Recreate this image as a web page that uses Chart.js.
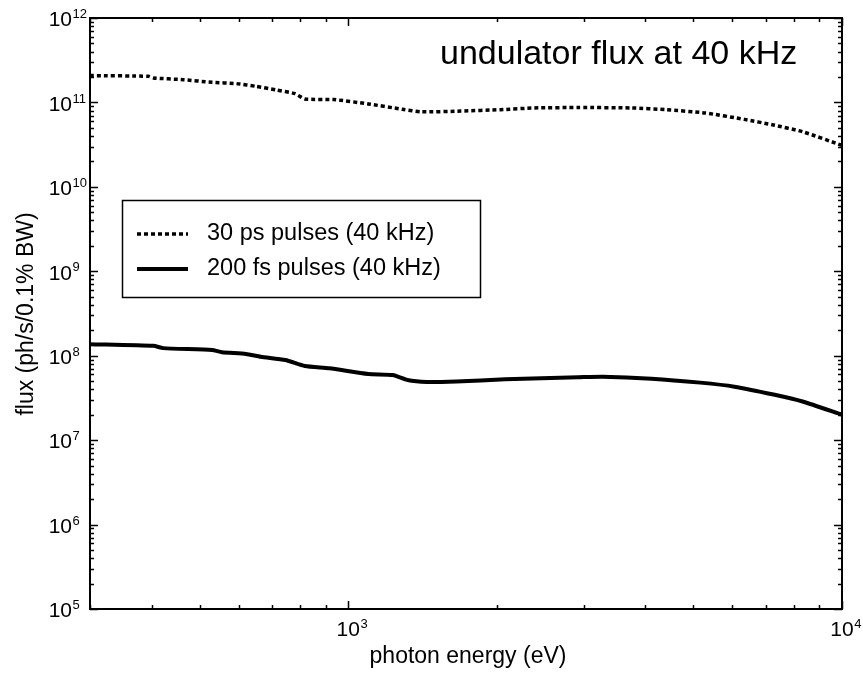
<!DOCTYPE html>
<html>
<head>
<meta charset="utf-8">
<script src="https://cdn.jsdelivr.net/npm/chart.js@4/dist/chart.umd.min.js"></script>
<style>
  body { margin: 0; background: #fff; }
  #chart { display: block; }
</style>
</head>
<body>
<canvas id="chart" width="863" height="673"></canvas>
<script>
// photon energy (eV) and flux (ph/s/0.1% BW)
const energy30ps = [300, 394, 403, 463, 530, 594, 651, 713, 780, 817, 936, 1098, 1288, 1410, 1693, 2031, 2382, 2922, 3755, 4405, 5285, 6340, 7265, 8320, 10000];
const flux30ps = [2.08e11, 2.04e11, 1.95e11, 1.86e11, 1.73e11, 1.67e11, 1.55e11, 1.41e11, 1.27e11, 1.10e11, 1.08e11, 9.6e10, 8.3e10, 7.74e10, 7.9e10, 8.2e10, 8.6e10, 8.7e10, 8.6e10, 8.2e10, 7.5e10, 6.3e10, 5.4e10, 4.5e10, 3.1e10];

const energy200fs = [300, 403, 422, 530, 555, 621, 665, 746, 817, 916, 1098, 1231, 1318, 1443, 1655, 2079, 2922, 3275, 4113, 5164, 6055, 7265, 8320, 10000];
const flux200fs = [1.37e8, 1.31e8, 1.23e8, 1.17e8, 1.10e8, 1.05e8, 9.7e7, 8.9e7, 7.55e7, 7.1e7, 6.07e7, 5.9e7, 5.16e7, 4.89e7, 4.96e7, 5.25e7, 5.55e7, 5.65e7, 5.35e7, 4.8e7, 4.3e7, 3.47e7, 2.87e7, 2.0e7];

const seriesLabels = ["30 ps pulses (40 kHz)", "200 fs pulses (40 kHz)"];
const xDecades = [1000, 10000];
const yDecades = [1e5, 1e6, 1e7, 1e8, 1e9, 1e10, 1e11, 1e12];
const titleText = "undulator flux at 40 kHz";
const xTitle = "photon energy (eV)";
const yTitle = "flux (ph/s/0.1% BW)";

const FONT = "'Liberation Sans', Arial, sans-serif";

function toPoints(xs, ys) {
  return xs.map((x, i) => ({ x: x, y: ys[i] }));
}

function supLabel(ctx, exp, x, y, align) {
  // draws 10^exp; x is centre (x axis) or right edge of "10" (y axis)
  ctx.font = "21px " + FONT;
  const w10 = ctx.measureText("10").width;
  const left = align === "center" ? x - w10 / 2 : x - w10;
  ctx.textAlign = "left";
  ctx.textBaseline = "middle";
  ctx.fillText("10", left, y);
  ctx.font = "13px " + FONT;
  ctx.fillText(String(exp), left + w10 + 0.5, y - 6);
}

const decorPlugin = {
  id: "decor",
  afterDraw(chart) {
    const ctx = chart.ctx;
    const a = chart.chartArea;
    const xs = chart.scales.x;
    const ys = chart.scales.y;
    ctx.save();
    ctx.strokeStyle = "#000";
    ctx.fillStyle = "#000";

    // frame
    ctx.lineWidth = 2;
    ctx.strokeRect(a.left, a.top, a.right - a.left, a.bottom - a.top);

    // ticks, pointing inward on all four sides
    ctx.lineWidth = 1.5;
    ctx.beginPath();
    for (let d = 100; d <= 10000; d *= 10) {
      for (let m = 1; m <= 9; m++) {
        const v = d * m;
        if (v < 300 || v > 10000) continue;
        const px = Math.round(xs.getPixelForValue(v)) + 0.5;
        const len = m === 1 ? 8 : 4;
        ctx.moveTo(px, a.bottom); ctx.lineTo(px, a.bottom - len);
        ctx.moveTo(px, a.top); ctx.lineTo(px, a.top + len);
      }
    }
    for (let d = 1e5; d <= 1e12; d *= 10) {
      for (let m = 1; m <= 9; m++) {
        const v = d * m;
        if (v > 1e12 * 1.0001) continue;
        const py = Math.round(ys.getPixelForValue(v)) + 0.5;
        const len = m === 1 ? 8 : 4;
        ctx.moveTo(a.left, py); ctx.lineTo(a.left + len, py);
        ctx.moveTo(a.right, py); ctx.lineTo(a.right - len, py);
      }
    }
    ctx.stroke();

    // tick labels
    xDecades.forEach(v => {
      supLabel(ctx, Math.round(Math.log10(v)), xs.getPixelForValue(v), a.bottom + 21, "center");
    });
    yDecades.forEach(v => {
      supLabel(ctx, Math.round(Math.log10(v)), 72, ys.getPixelForValue(v) + 2.5, "right");
    });

    // axis titles
    ctx.font = "23px " + FONT;
    ctx.textAlign = "center";
    ctx.textBaseline = "middle";
    ctx.fillText(xTitle, 468, 657);
    ctx.save();
    ctx.translate(27, 314);
    ctx.rotate(-Math.PI / 2);
    ctx.font = "23px " + FONT;
    ctx.fillText(yTitle, 0, 0);
    ctx.restore();

    // title inside the plot
    ctx.font = "34px " + FONT;
    ctx.textAlign = "left";
    ctx.textBaseline = "alphabetic";
    ctx.fillText(titleText, 440, 64);

    // legend box
    ctx.lineWidth = 1.5;
    ctx.strokeRect(122.5, 200.5, 358, 97);
    ctx.font = "23.5px " + FONT;
    ctx.textBaseline = "middle";
    const rows = [234, 269];
    chart.data.datasets.forEach((ds, i) => {
      ctx.save();
      ctx.lineWidth = ds.borderWidth;
      ctx.setLineDash(ds.borderDash || []);
      ctx.beginPath();
      ctx.moveTo(137, rows[i]);
      ctx.lineTo(188, rows[i]);
      ctx.stroke();
      ctx.restore();
      ctx.fillText(ds.label, 207, rows[i]);
    });
    ctx.restore();
  }
};

new Chart(document.getElementById("chart"), {
  type: "line",
  data: {
    datasets: [
      {
        label: seriesLabels[0],
        data: toPoints(energy30ps, flux30ps),
        borderColor: "#000",
        borderWidth: 3.5,
        borderDash: [4, 3],
        pointRadius: 0,
        tension: 0.2
      },
      {
        label: seriesLabels[1],
        data: toPoints(energy200fs, flux200fs),
        borderColor: "#000",
        borderWidth: 4,
        pointRadius: 0,
        tension: 0.2
      }
    ]
  },
  options: {
    responsive: false,
    animation: false,
    devicePixelRatio: 1,
    layout: { padding: { left: 90, right: 21, top: 18, bottom: 64 } },
    plugins: { legend: { display: false }, tooltip: { enabled: false } },
    scales: {
      x: { type: "logarithmic", min: 300, max: 10000, display: false },
      y: { type: "logarithmic", min: 1e5, max: 1e12, display: false }
    }
  },
  plugins: [decorPlugin]
});
</script>
</body>
</html>
